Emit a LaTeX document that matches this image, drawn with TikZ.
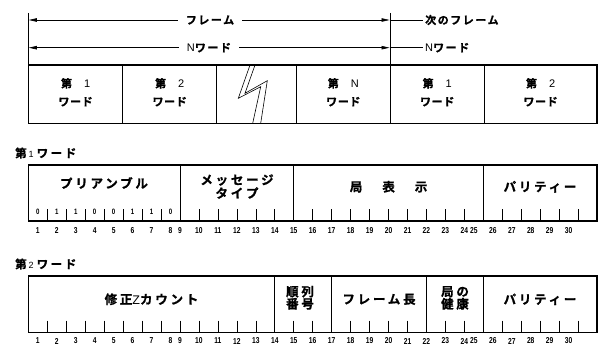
\documentclass[tikz,border=0pt]{standalone}
\usepackage{fontspec}
\usetikzlibrary{arrows.meta}
\setmainfont{Liberation Sans}
\newfontfamily\jpA{Noto Sans CJK JP}[BoldFont={Noto Sans CJK JP Bold},BoldFeatures={FakeBold=1},LetterSpace=14]
\newfontfamily\jpB{Noto Sans CJK JP}[BoldFont={Noto Sans CJK JP Bold},BoldFeatures={FakeBold=1},LetterSpace=22]
\newfontfamily\jpC{Noto Sans CJK JP}[BoldFont={Noto Sans CJK JP Bold},BoldFeatures={FakeBold=1},LetterSpace=6]
\newcommand{\cond}[1]{\scalebox{0.78}[1]{#1}}
\tikzset{
  toplab/.style={font=\jpA\bfseries\fontsize{11}{13}\selectfont, inner xsep=8pt, inner ysep=1pt},
  nextlab/.style={font=\jpA\bfseries\fontsize{11}{13}\selectfont, inner xsep=2pt, inner ysep=1pt, anchor=west},
  celllab/.style={font=\jpC\bfseries\fontsize{11}{13}\selectfont, inner sep=0pt},
  fieldlab/.style={font=\jpB\bfseries\fontsize{12.5}{14}\selectfont, inner sep=0pt},
  wordlab/.style={font=\jpB\bfseries\fontsize{11.5}{14}\selectfont, inner sep=0pt, anchor=west},
  bitnum/.style={font=\bfseries\fontsize{8.6}{9}\selectfont, inner sep=0pt},
  prebit/.style={font=\bfseries\fontsize{7.8}{8}\selectfont, inner sep=0pt},
  arr/.style={-{Triangle[length=8pt,width=3.5pt]}, line width=0.6pt},
  thin/.style={line width=0.6pt},
  outer/.style={line width=1.2pt},
  div/.style={line width=0.8pt},
  tick/.style={line width=0.6pt}
}
\begin{document}
\begin{tikzpicture}[x=1pt,y=-1pt]
\useasboundingbox (0,0) rectangle (598,345);
\def\W{18.96}
\def\X{28.3}
% ---------- top frame ----------
\coordinate (va) at (28.5,13);
\coordinate (vab) at (28.5,65);
\coordinate (vb) at (390,13);
\coordinate (vbb) at (390,65);
\draw[thin] (va) -- (vab);
\draw[thin] (vb) -- (vbb);
\node[toplab] (fr) at (210,20) {フレーム};
\node[nextlab] (nf) at (423,20) {次のフレーム};
\coordinate (frL) at (28.8,20);
\coordinate (frR) at (389.5,20);
\draw[arr] (fr.west) -- (frL);
\draw[arr] (fr.east) -- (frR);
\draw[thin] (frR) -- (nf.west);
\node[toplab] (nw) at (209,47.7) {{\rmfamily\mdseries N}ワード};
\node[nextlab] (nnw) at (423,47.7) {{\rmfamily\mdseries N}ワード};
\coordinate (nwL) at (28.8,47.7);
\coordinate (nwR) at (389.5,47.7);
\draw[arr] (nw.west) -- (nwL);
\draw[arr] (nw.east) -- (nwR);
\draw[thin] (nwR) -- (nnw.west);
% box
\draw[outer] (28.5,65) rectangle (597,123.3);
\foreach \x in {122.7,216.7,296.7,390,484.3}{\draw[div] (\x,65) -- (\x,123.3);}
% zigzag
\draw[thin] (250,65) -- (238.3,98.3) -- (260.7,86.7) -- (252.7,123.3);
\draw[thin] (255,65) -- (245,93.3) -- (267.3,80.7) -- (260.7,123.3);
% cell labels
\node[celllab] (c1a) at (75.6,83.3) {第\hspace{12pt}{\rmfamily\mdseries 1}};
\node[celllab] (c1b) at (75.6,101.7) {ワード};
\node[celllab] (c2a) at (169.7,83.3) {第\hspace{12pt}{\rmfamily\mdseries 2}};
\node[celllab] (c2b) at (169.7,101.7) {ワード};
\node[celllab] (cNa) at (343.3,83.3) {第\hspace{12pt}{\rmfamily\mdseries N}};
\node[celllab] (cNb) at (343.3,101.7) {ワード};
\node[celllab] (d1a) at (437.2,83.3) {第\hspace{12pt}{\rmfamily\mdseries 1}};
\node[celllab] (d1b) at (437.2,101.7) {ワード};
\node[celllab] (d2a) at (540.6,83.3) {第\hspace{12pt}{\rmfamily\mdseries 2}};
\node[celllab] (d2b) at (540.6,101.7) {ワード};
% ---------- word 1 ----------
\node[wordlab] (w1) at (15,153) {第\hspace{2pt}{\rmfamily\mdseries\fontsize{9}{10}\selectfont 1}\hspace{3pt}ワード};
\draw[outer] (\X,165) rectangle (597,221);
\foreach \k in {8,14,24}{\draw[div] ({\X+\k*\W},165) -- ({\X+\k*\W},221);}
\foreach \k in {1,...,7,9,10,...,13,15,16,...,23,25,26,...,29}{\draw[tick] ({\X+\k*\W},209) -- ({\X+\k*\W},221);}
\foreach \v [count=\k] in {0,1,1,0,0,1,1,0}{\node[prebit] (p\k) at ({\X+(\k-0.5)*\W},212) {\cond{\v}};}
\node[fieldlab] (pre) at (104,183) {プリアンブル};
\node[fieldlab] (mt1) at (237,180) {メッセージ};
\node[fieldlab] (mt2) at (237,193) {タイプ};
\node[fieldlab] (kyo) at (388.6,186.7) {局\hspace{20pt}表\hspace{20pt}示};
\node[fieldlab] (par1) at (540,186.7) {パリティー};
% ---------- word 2 ----------
\node[wordlab] (w2) at (15,264) {第\hspace{2pt}{\rmfamily\mdseries\fontsize{9}{10}\selectfont 2}\hspace{3pt}ワード};
\draw[outer] (\X,276) rectangle (597,332.7);
\foreach \k in {13,16,21,24}{\draw[div] ({\X+\k*\W},276) -- ({\X+\k*\W},332.7);}
\foreach \k in {1,...,12,14,15,17,18,19,20,22,23,25,26,...,29}{\draw[tick] ({\X+\k*\W},320.7) -- ({\X+\k*\W},332.7);}
\node[fieldlab] (zc) at (151.5,299.3) {修正{\rmfamily\mdseries Z}カウント};
\node[fieldlab] (jr1) at (300,291.7) {順列};
\node[fieldlab] (jr2) at (300,303.8) {番号};
\node[fieldlab] (fl) at (379,299.3) {フレーム長};
\node[fieldlab] (kk1) at (455,291.7) {局の};
\node[fieldlab] (kk2) at (455,303.8) {健康};
\node[fieldlab] (par2) at (540,299.3) {パリティー};
% ---------- bit numbers ----------
\foreach \n in {1,...,30}{
  \pgfmathsetmacro{\off}{\n<9 ? \n-0.5 : (\n<25 ? \n-1 : \n-1.5)}
  \node[bitnum] (na\n) at ({\X+\off*\W},230.5) {\cond{\n}};
  \node[bitnum] (nb\n) at ({\X+\off*\W},341) {\cond{\n}};
}
\end{tikzpicture}
\end{document}
